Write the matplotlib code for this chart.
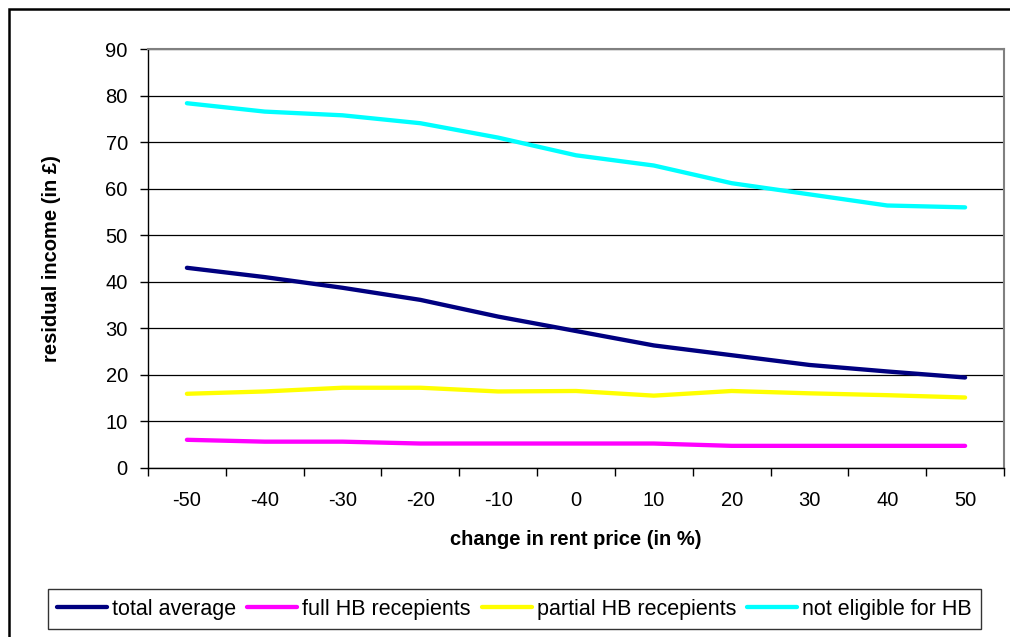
import matplotlib
matplotlib.use("Agg")
import matplotlib.pyplot as plt
import numpy as np
from matplotlib.patches import Rectangle

plt.rcParams['font.family'] = ['Liberation Sans', 'DejaVu Sans']

# rent change categories (%)
rent_change = [-50, -40, -30, -20, -10, 0, 10, 20, 30, 40, 50]

# residual income (GBP) per household group
total_average = [43.0, 41.0, 38.7, 36.1, 32.5, 29.4, 26.3, 24.2, 22.1, 20.7, 19.4]
full_hb = [6.0, 5.6, 5.6, 5.2, 5.2, 5.2, 5.2, 4.7, 4.7, 4.7, 4.7]
partial_hb = [15.9, 16.4, 17.2, 17.2, 16.4, 16.5, 15.5, 16.5, 16.0, 15.6, 15.1]
not_eligible = [78.4, 76.6, 75.8, 74.1, 71.0, 67.2, 65.0, 61.2, 58.8, 56.4, 56.0]

series = [
    ("total average", total_average, "#000080"),
    ("full HB recepients", full_hb, "#FF00FF"),
    ("partial HB recepients", partial_hb, "#FFFF00"),
    ("not eligible for HB", not_eligible, "#00FFFF"),
]

W, H = 1010, 637
fig = plt.figure(figsize=(W / 100, H / 100), dpi=100)

left, right, top, bottom = 148, 1004, 49.3, 467.7
ax = fig.add_axes([left / W, 1 - bottom / H, (right - left) / W, (bottom - top) / H])

x = np.arange(len(rent_change))
for name, vals, color in series:
    ax.plot(x, vals, color=color, lw=3.1, label=name, solid_capstyle="round")

ax.set_xlim(-0.5, len(rent_change) - 0.5)
ax.set_ylim(0, 90)
ax.set_yticks(range(0, 91, 10))
ax.yaxis.grid(True, color="#000000", lw=0.9)
ax.set_axisbelow(True)

# category boundaries get tick marks, labels sit in the middle
ax.set_xticks(np.arange(-0.5, len(rent_change)), labels=[])
ax.set_xticks(x, labels=[str(v) for v in rent_change], minor=True)
ax.tick_params(axis="x", which="major", length=6, width=1, direction="out")
ax.tick_params(axis="x", which="minor", length=0, pad=17, labelsize=14.5)
ax.tick_params(axis="y", length=6, width=1, direction="out", pad=8.5, labelsize=14.5)

for side in ("top", "right"):
    ax.spines[side].set_color("#808080")
    ax.spines[side].set_linewidth(1.5)
for side in ("left", "bottom"):
    ax.spines[side].set_color("#000000")
    ax.spines[side].set_linewidth(1)

ax.set_xlabel("change in rent price (in %)", fontsize=14.5, fontweight="bold", labelpad=14)
ax.set_ylabel("residual income (in £)", fontsize=14.5, fontweight="bold", labelpad=32)

leg = fig.legend(loc="center", bbox_to_anchor=(514.5 / W, 1 - 609 / H), ncol=4,
                 fontsize=15.5, handlelength=2.33, handletextpad=0.23, columnspacing=0.5,
                 frameon=True, fancybox=False, borderpad=0.45)
leg.get_frame().set_edgecolor("#000000")
leg.get_frame().set_linewidth(1)
for line in leg.get_lines():
    line.set_linewidth(3.1)

# chart area border
fig.patches.append(Rectangle((9 / W, -0.05), 1.1, 1 - 9 / H + 0.05, transform=fig.transFigure,
                             fill=False, edgecolor="#000000", lw=1.8))

fig.savefig("out.png", dpi=100)
